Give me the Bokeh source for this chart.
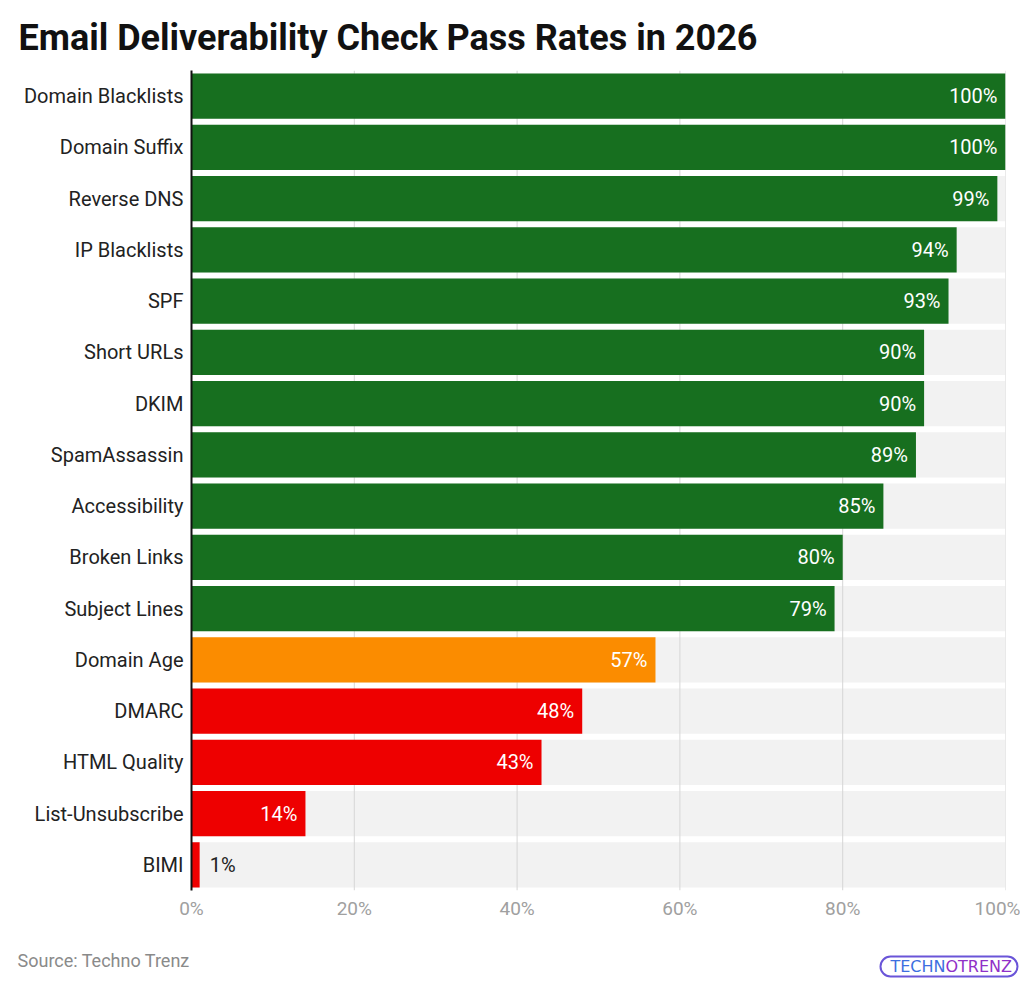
from bokeh.plotting import figure
from bokeh.models import Range1d, FixedTicker, Label, ColumnDataSource, Quad
from bokeh.layouts import column
from bokeh.embed import file_html
from bokeh.resources import INLINE
from bokeh.core.properties import value

categories = ["Domain Blacklists", "Domain Suffix", "Reverse DNS", "IP Blacklists", "SPF",
              "Short URLs", "DKIM", "SpamAssassin", "Accessibility", "Broken Links",
              "Subject Lines", "Domain Age", "DMARC", "HTML Quality", "List-Unsubscribe", "BIMI"]
values = [100, 100, 99, 94, 93, 90, 90, 89, 85, 80, 79, 57, 48, 43, 14, 1]
x_ticks = [0, 20, 40, 60, 80, 100]
title_text = "Email Deliverability Check Pass Rates in 2026"
source_text = "Source: Techno Trenz"

GREEN, ORANGE, RED = "#176f1f", "#fb8c00", "#ee0000"
def color_for(v):
    if v >= 75:
        return GREEN
    if v >= 50:
        return ORANGE
    return RED

n = len(categories)
ys = list(range(n))  # 0 at top
W = 1020
H1 = 930   # main figure (title + bars + x axis)
H2 = 55    # footer figure

p = figure(width=W, height=H1, output_backend="svg", toolbar_location=None,
           x_range=Range1d(0, 100), y_range=Range1d(n - 0.5, -0.5),
           min_border_left=191, min_border_right=W - 1005, min_border_top=70, min_border_bottom=H1 - 890)
p.outline_line_color = None
p.background_fill_color = "white"
p.xgrid.visible = False
p.ygrid.visible = False

p.title.text = title_text
p.title.align = "left"
p.title.offset = 18 - 191
p.title.standoff = 23
p.title.text_font = "Roboto"
p.title.text_font_size = "36px"
p.title.text_font_style = "bold"
p.title.text_color = "#111111"

# background bands
p.hbar(y=ys, left=0, right=[100] * n, height=0.88, fill_color="#f2f2f2", line_color=None)
# gridlines
p.segment(x0=x_ticks[1:], x1=x_ticks[1:], y0=[-0.5] * (len(x_ticks) - 1), y1=[n - 0.5] * (len(x_ticks) - 1),
          line_color="#d6d6d6", line_width=1)
# bars
src = ColumnDataSource(dict(y=ys, v=values, c=[color_for(v) for v in values]))
p.hbar(y="y", left=0, right="v", height=0.88, fill_color="c", line_color=None, source=src)

inside = [i for i, v in enumerate(values) if v >= 5]
outside = [i for i, v in enumerate(values) if v < 5]
p.text(x=[values[i] for i in inside], y=[ys[i] for i in inside], text=[f"{values[i]}%" for i in inside],
       text_align="right", text_baseline="middle", x_offset=-8, text_color="white",
       text_font=value("Roboto"), text_font_size="20px")
p.text(x=[values[i] for i in outside], y=[ys[i] for i in outside], text=[f"{values[i]}%" for i in outside],
       text_align="left", text_baseline="middle", x_offset=10, text_color="#222222",
       text_font=value("Roboto"), text_font_size="20px")

# axes
p.yaxis.ticker = FixedTicker(ticks=ys)
p.yaxis.major_label_overrides = {i: c for i, c in enumerate(categories)}
p.yaxis.major_tick_line_color = None
p.yaxis.minor_tick_line_color = None
p.yaxis.major_tick_out = 0
p.yaxis.major_tick_in = 0
p.yaxis.minor_tick_out = 0
p.yaxis.axis_line_color = "#111111"
p.yaxis.axis_line_width = 2
p.yaxis.major_label_text_font = "Roboto"
p.yaxis.major_label_text_font_size = "20px"
p.yaxis.major_label_text_color = "#222222"
p.yaxis.major_label_standoff = 8

p.xaxis.ticker = FixedTicker(ticks=x_ticks)
p.xaxis.major_label_overrides = {t: f"{t}%" for t in x_ticks}
p.xaxis.major_tick_line_color = None
p.xaxis.minor_tick_line_color = None
p.xaxis.major_tick_out = 0
p.xaxis.major_tick_in = 0
p.xaxis.minor_tick_out = 0
p.xaxis.axis_line_color = None
p.xaxis.major_label_text_font = "Roboto"
p.xaxis.major_label_text_font_size = "19px"
p.xaxis.major_label_text_color = "#a0a0a0"
p.xaxis.major_label_standoff = 6

# footer: source and logo (data space = page pixels)
f = figure(width=W, height=H2, output_backend="svg", toolbar_location=None,
           x_range=Range1d(0, W), y_range=Range1d(H1 + H2, H1),
           x_axis_type=None, y_axis_type=None,
           min_border_left=0, min_border_right=0, min_border_top=0, min_border_bottom=0)
f.outline_line_color = None
f.xgrid.visible = False
f.ygrid.visible = False
for fig in (p, f):
    if hasattr(fig, "frame_align"):
        fig.frame_align = False

f.add_layout(Label(x=17, y=960, text=source_text, text_font="Roboto", text_font_size="18px",
                   text_color="#8a8a8a", text_baseline="middle"))

# logo: rounded outline + two-coloured word
lx, ly = 948, 966
if "border_radius" in Quad.properties():
    f.quad(left=[lx - 68], right=[lx + 69], top=[ly - 10], bottom=[ly + 10], border_radius=10,
           fill_color=None, line_color="#6a55d8", line_width=2)
else:
    f.add_layout(Label(x=lx, y=ly, text="TECHNOTRENZ", text_font="DejaVu Sans", text_font_size="16px",
                       text_color="white", background_fill_color="white", text_align="center",
                       text_baseline="middle", border_line_color="#6a55d8", border_line_width=2,
                       padding=(1, 8), border_radius=10))
f.add_layout(Label(x=lx - 3, y=ly, text="TECHN", text_font="DejaVu Sans", text_font_size="16px",
                   text_color="#3d6fe0", text_align="right", text_baseline="middle"))
f.add_layout(Label(x=lx - 3, y=ly, text="OTRENZ", text_font="DejaVu Sans", text_font_size="16px",
                   text_color="#9030c8", text_align="left", text_baseline="middle"))

layout = column(p, f, spacing=0)
open("out.html", "w").write(file_html(layout, INLINE))
